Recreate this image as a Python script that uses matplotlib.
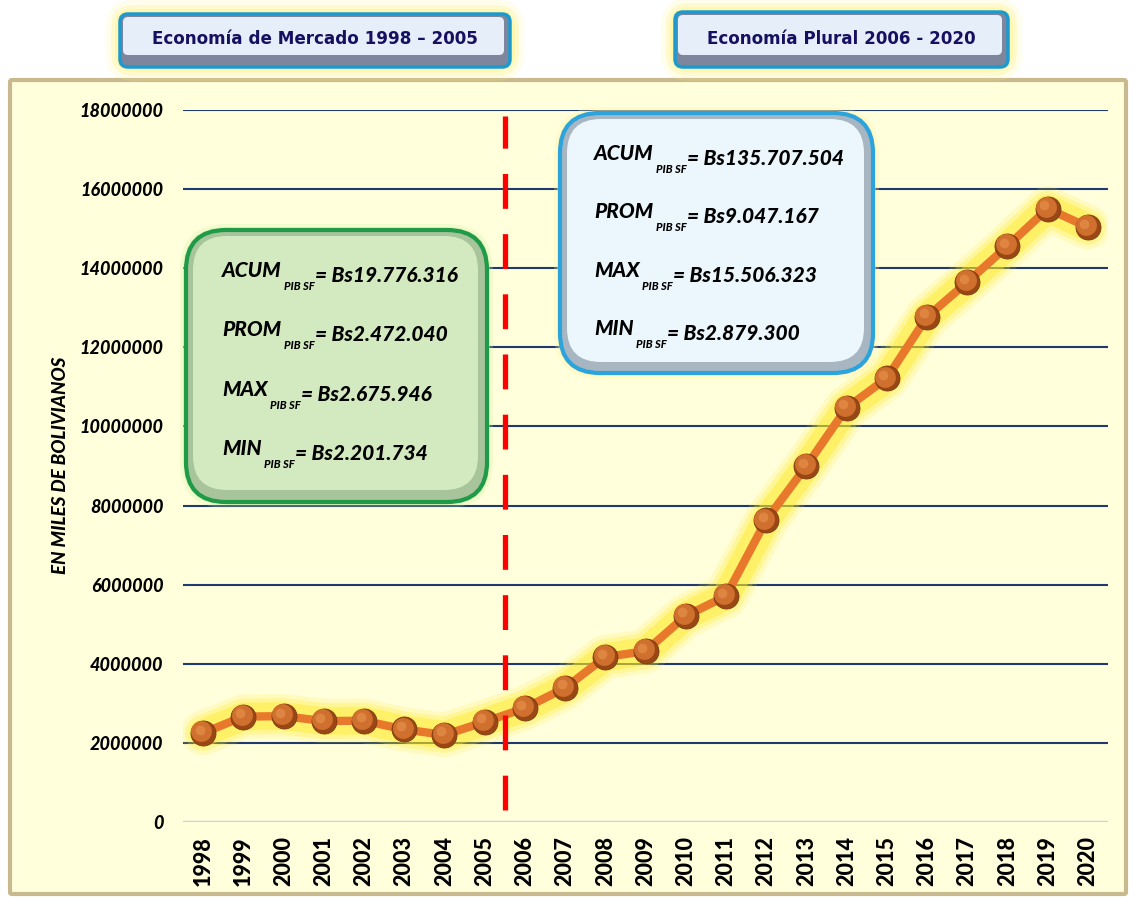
import matplotlib
matplotlib.use("Agg")
import matplotlib.pyplot as plt
from matplotlib.patches import FancyBboxPatch
from matplotlib.text import Annotation
from matplotlib.transforms import offset_copy
import numpy as np

years = [str(y) for y in range(1998, 2021)]
pib = [2250000, 2665000, 2675946, 2553000, 2560000, 2340000, 2201734, 2530000,
       2879300, 3390000, 4170000, 4320000, 5210000, 5710000, 7630000, 9000000,
       10470000, 11220000, 12770000, 13650000, 14560000, 15506323, 15040000]

headers = ["Economía de Mercado 1998 – 2005", "Economía Plural 2006 - 2020"]
stat_names = ["ACUM", "PROM", "MAX", "MIN"]
stats_mercado = ["Bs19.776.316", "Bs2.472.040", "Bs2.675.946", "Bs2.201.734"]
stats_plural = ["Bs135.707.504", "Bs9.047.167", "Bs15.506.323", "Bs2.879.300"]
yticks = list(range(0, 18000001, 2000000))

W, H = 1134, 898
fig = plt.figure(figsize=(W / 100, H / 100), dpi=100)
fig.patch.set_facecolor("white")
tr = fig.dpi_scale_trans
FONT = "Lato"


def box(x0, y0, x1, y1, face, edge, lw=2.5, r=20, z=1, alpha=1.0):
    # pixel coords, measured from top-left
    p = FancyBboxPatch((x0 / 100, (H - y1) / 100), (x1 - x0) / 100, (y1 - y0) / 100,
                       boxstyle=f"round,pad=0,rounding_size={r / 100}",
                       transform=tr, facecolor=face, edgecolor=edge, linewidth=lw,
                       zorder=z, alpha=alpha)
    fig.add_artist(p)
    return p


# panel background
box(10, 80, 1126, 894, "#FFFFDC", "#C9B98E", lw=3, r=2, z=0)

# axes
ax = fig.add_axes([183 / W, 1 - 822 / H, (1108 - 183) / W, (822 - 110) / H])
ax.set_facecolor("none")
x = np.arange(len(years))
ax.set_xlim(-0.5, len(years) - 0.5)
ax.set_ylim(0, 18000000)
for s in ax.spines.values():
    s.set_visible(False)
for v in yticks[1:]:
    ax.axhline(v, color="#1F3A6E", lw=1.5, zorder=1)
ax.axhline(0, color="#CFD0E6", lw=2.5, zorder=1)

ax.set_yticks(yticks)
ax.set_yticklabels([str(v) for v in yticks], fontfamily=FONT, fontweight="black",
                   fontstyle="italic", fontsize=13)
ax.set_xticks(x)
ax.set_xticklabels(years, rotation=90, fontfamily=FONT, fontweight="black", fontsize=15.5)
ax.tick_params(axis="y", length=0, pad=14)
ax.tick_params(axis="x", length=0, pad=10)

fig.text(60 / W, 1 - 465 / H, "EN MILES DE BOLIVIANOS", rotation=90, ha="center",
         va="center", fontfamily=FONT, fontweight="black", fontstyle="italic", fontsize=13.5)

# glow + line
for lw, a in [(32, 0.15), (26, 0.25), (20, 0.4)]:
    ax.plot(x, pib, color="#FFEA20", lw=lw, alpha=a, solid_capstyle="round",
            solid_joinstyle="round", zorder=2)
ax.plot(x, pib, color="#E8792C", lw=6, zorder=3, solid_joinstyle="round")
# shaded "sphere" markers
ax.plot(x, pib, "o", ms=18, mfc="#9A4716", mec="#7E3A10", mew=0.6, zorder=4)
ax.plot(x, pib, "o", ms=15, mfc="#D0702E", mec="none", zorder=4,
        transform=offset_copy(ax.transData, fig=fig, x=-1.2, y=1.2, units="points"))
ax.plot(x, pib, "o", ms=7, mfc="#E8964E", mec="none", alpha=0.6, zorder=4,
        transform=offset_copy(ax.transData, fig=fig, x=-2.5, y=2.5, units="points"))

# divider
ax.plot([7.5, 7.5], [300000, 17850000], color="#FF0000", lw=3.8,
        dashes=(6.6, 4.8), zorder=6)

# header boxes
for (x0, y0, x1, y1), txt in zip([(120, 14, 510, 67), (675, 12, 1008, 67)], headers):
    for g, a in [(14, 0.15), (9, 0.25), (5, 0.35)]:
        box(x0 - g, y0 - g, x1 + g, y1 + g, "#FFF27A", "none", lw=0, r=14 + g, z=1, alpha=a)
    box(x0, y0, x1, y1, "#7D869C", "#1A9AD0", lw=2.5, r=8, z=2)
    box(x0 + 3, y0 + 3, x1 - 6, y1 - 12, "#E6EEFA", "none", lw=0, r=5, z=2)
    fig.text((x0 + x1) / 2 / W, 1 - ((y0 + y1) / 2 - 1) / H, txt, ha="center", va="center",
             fontfamily="DejaVu Sans", fontweight="bold", fontsize=12.1, color="#161060",
             zorder=3)

# stat boxes
for g, a in [(6, 0.25), (3, 0.4)]:
    box(186 - g, 230 - g, 487 + g, 502 + g, "#C9F0A0", "none", lw=0, r=40 + g, z=7, alpha=a)
    box(560 - g, 113 - g, 873 + g, 373 + g, "#FFF0A0", "none", lw=0, r=40 + g, z=7, alpha=a)
box(186, 230, 487, 502, "#A8C49A", "#1E9A48", lw=3, r=40, z=7)
box(193, 236, 478, 490, "#D3EAC0", "none", lw=0, r=34, z=7)
box(560, 113, 873, 373, "#A8B6C2", "#2BA4DE", lw=3, r=40, z=7)
box(567, 119, 864, 362, "#EBF6FD", "none", lw=0, r=34, z=7)


def stat_lines(x0, ys, values):
    for name, val, y in zip(stat_names, values, ys):
        t1 = fig.text(x0 / W, 1 - y / H, name, ha="left", va="baseline", fontfamily=FONT,
                      fontweight="black", fontstyle="italic", fontsize=15, zorder=8)
        t2 = Annotation("PIB SF", xy=(1, 0), xycoords=t1, xytext=(2, -7),
                        textcoords="offset points", ha="left", va="baseline",
                        fontfamily=FONT, fontweight="black", fontstyle="italic",
                        fontsize=8, zorder=8)
        fig.add_artist(t2)
        t3 = Annotation("= " + val, xy=(1, 0), xycoords=t2, xytext=(0, 7),
                        textcoords="offset points", ha="left", va="baseline",
                        fontfamily=FONT, fontweight="black", fontstyle="italic",
                        fontsize=15, zorder=8)
        fig.add_artist(t3)


stat_lines(222, [277, 336, 396, 455], stats_mercado)
stat_lines(594, [160, 218, 277, 335], stats_plural)

fig.savefig("out.png", dpi=100, facecolor="white")
